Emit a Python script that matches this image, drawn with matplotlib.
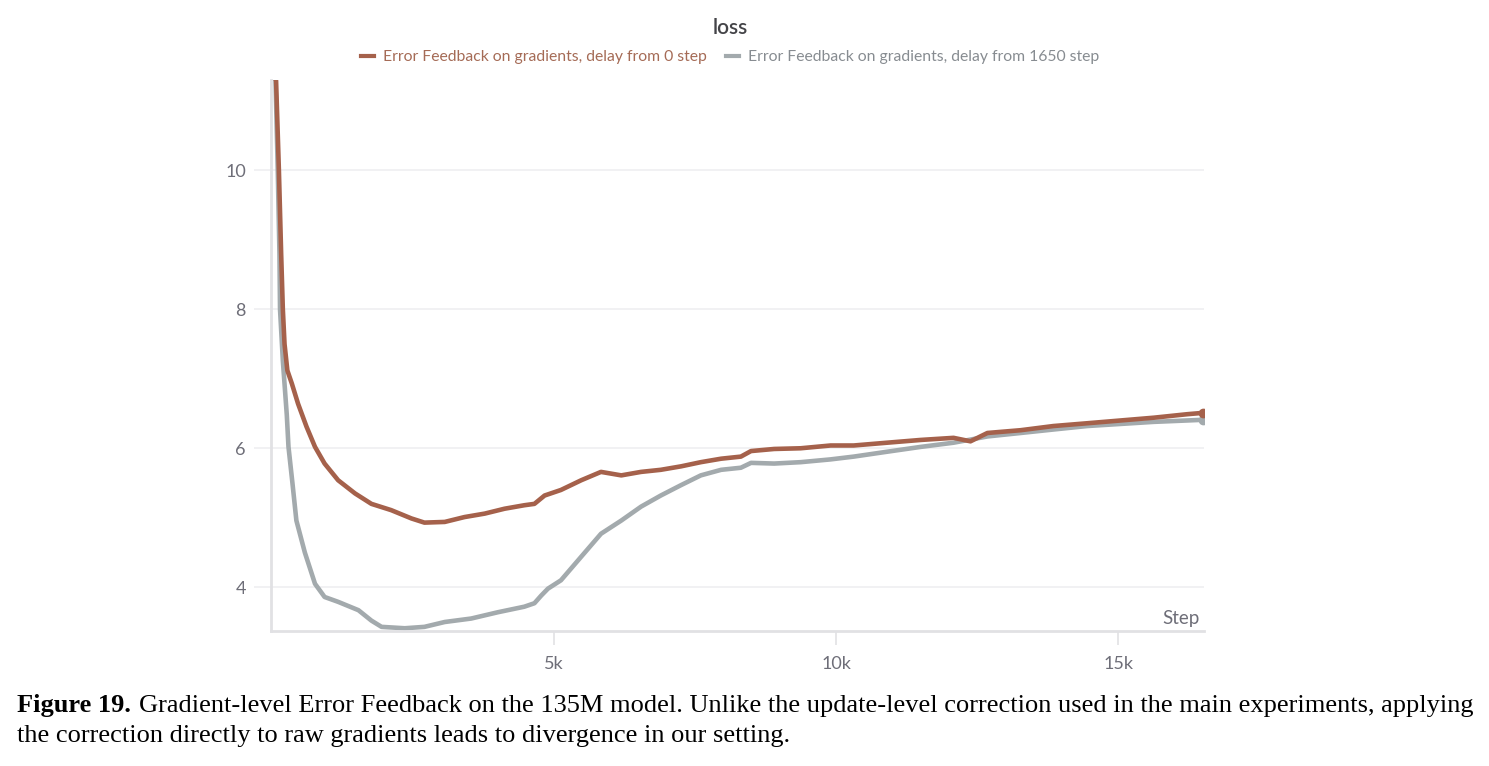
import matplotlib
matplotlib.use("Agg")
import matplotlib.pyplot as plt

# step values (k) and loss
steps_ef0 = [0.0, 0.07, 0.12, 0.16, 0.19, 0.22, 0.27, 0.35, 0.46, 0.61, 0.76, 0.93, 1.17, 1.47,
             1.76, 2.11, 2.47, 2.70, 3.06, 3.41, 3.77, 4.12, 4.47, 4.65, 4.83, 5.12, 5.48,
             5.83, 6.19, 6.54, 6.89, 7.25, 7.60, 7.96, 8.31, 8.49, 8.90, 9.37, 9.90, 10.31,
             10.90, 11.50, 12.08, 12.38, 12.68, 13.27, 13.85, 14.45, 15.04, 15.63, 16.22, 16.51]
loss_ef0 = [11.45, 11.29, 10.0, 8.80, 8.0, 7.50, 7.12, 6.93, 6.64, 6.31, 6.02, 5.78, 5.54, 5.35,
            5.20, 5.11, 4.99, 4.93, 4.94, 5.01, 5.06, 5.13, 5.18, 5.20, 5.32, 5.40, 5.54,
            5.66, 5.61, 5.66, 5.69, 5.74, 5.80, 5.85, 5.88, 5.96, 5.99, 6.00, 6.04, 6.04,
            6.08, 6.12, 6.15, 6.10, 6.22, 6.26, 6.32, 6.36, 6.40, 6.44, 6.49, 6.51]

steps_ef1650 = [0.0, 0.06, 0.10, 0.13, 0.14, 0.19, 0.26, 0.29, 0.36, 0.43, 0.58, 0.76, 0.93,
                1.17, 1.53, 1.76, 1.94, 2.35, 2.70, 3.06, 3.53, 4.00, 4.47, 4.65, 4.77, 4.89,
                5.12, 5.48, 5.83, 6.19, 6.54, 6.89, 7.25, 7.60, 7.96, 8.31, 8.49, 8.90, 9.37,
                9.90, 10.31, 10.90, 11.50, 12.08, 12.68, 13.27, 13.85, 14.45, 15.04, 15.63,
                16.22, 16.51]
loss_ef1650 = [11.45, 11.29, 10.0, 8.80, 8.0, 7.26, 6.48, 6.02, 5.50, 4.96, 4.50, 4.05, 3.86,
               3.79, 3.67, 3.52, 3.43, 3.41, 3.43, 3.50, 3.55, 3.64, 3.72, 3.77, 3.88, 3.98,
               4.10, 4.44, 4.77, 4.96, 5.16, 5.32, 5.47, 5.61, 5.69, 5.72, 5.79, 5.78, 5.80,
               5.84, 5.88, 5.95, 6.02, 6.08, 6.17, 6.22, 6.27, 6.32, 6.35, 6.38, 6.40, 6.41]

labels = ["Error Feedback on gradients, delay from 0 step",
          "Error Feedback on gradients, delay from 1650 step"]
y_ticks = [4, 6, 8, 10]
x_ticks = [5, 10, 15]
x_labels = ["5k", "10k", "15k"]

brown = "#a5614b"
grey = "#a3aaad"
txt = "#6e6e78"

plt.rcParams["font.family"] = ["Lato", "DejaVu Sans"]

fig = plt.figure(figsize=(14.89, 7.66), dpi=100)
ax = fig.add_axes([0.182, 0.1762, 0.6266, 0.7194])

l1, = ax.plot(steps_ef0, loss_ef0, color=brown, lw=3.3, solid_joinstyle="round", zorder=3)
l2, = ax.plot(steps_ef1650, loss_ef1650, color=grey, lw=3.3, solid_joinstyle="round", zorder=2)
ax.plot(steps_ef0[-1], loss_ef0[-1], "o", color=brown, ms=6, zorder=3)
ax.plot(steps_ef1650[-1], loss_ef1650[-1], "o", color=grey, ms=6, zorder=2)

ax.set_xlim(-0.02, 16.52)
ax.set_ylim(3.37, 11.3)

ax.set_yticks(y_ticks)
ax.set_yticklabels([str(v) for v in y_ticks])
ax.set_xticks(x_ticks)
ax.set_xticklabels(x_labels)
ax.grid(axis="y", color="#efeff1", lw=1.2)
ax.set_axisbelow(True)

for s in ["top", "right"]:
    ax.spines[s].set_visible(False)
for s in ["left", "bottom"]:
    ax.spines[s].set_color("#e1e1e4")
    ax.spines[s].set_linewidth(2)

ax.tick_params(axis="y", colors="#efeff1", labelcolor=txt, labelsize=13, length=12, width=1.2, pad=6)
ax.tick_params(axis="x", colors="#e1e1e4", labelcolor=txt, labelsize=13, length=10, width=1.2, pad=8)

ax.text(0.995, 0.008, "Step", transform=ax.transAxes, ha="right", va="bottom",
        color=txt, fontsize=13.5)

fig.text(0.4905, 0.963, "loss", ha="center", va="center", fontsize=15,
         fontweight="semibold", color="#444448")

leg = fig.legend([l1, l2], labels, loc="center", bbox_to_anchor=(0.4905, 0.925), ncol=2,
                 frameon=False, fontsize=11.3, handlelength=0.8, handletextpad=0.6,
                 columnspacing=1.2)
for h in leg.legend_handles:
    h.set_linewidth(3)
leg.get_texts()[0].set_color("#a56b56")
leg.get_texts()[1].set_color("#878c91")

cap1 = "Gradient-level Error Feedback on the 135M model. Unlike the update-level correction used in the main experiments, applying"
cap2 = "the correction directly to raw gradients leads to divergence in our setting."
t0 = fig.text(0.0114, 0.0785, "Figure 19.", fontfamily="Liberation Serif", fontweight="bold",
              fontsize=19, va="center")
fig.canvas.draw()
bb = t0.get_window_extent()
fig.text((bb.x1 + 8) / fig.bbox.width, 0.0785, cap1, fontfamily="Liberation Serif",
         fontsize=19, va="center")
fig.text(0.0114, 0.039, cap2, fontfamily="Liberation Serif", fontsize=19, va="center")

fig.savefig("out.png", dpi=100)
